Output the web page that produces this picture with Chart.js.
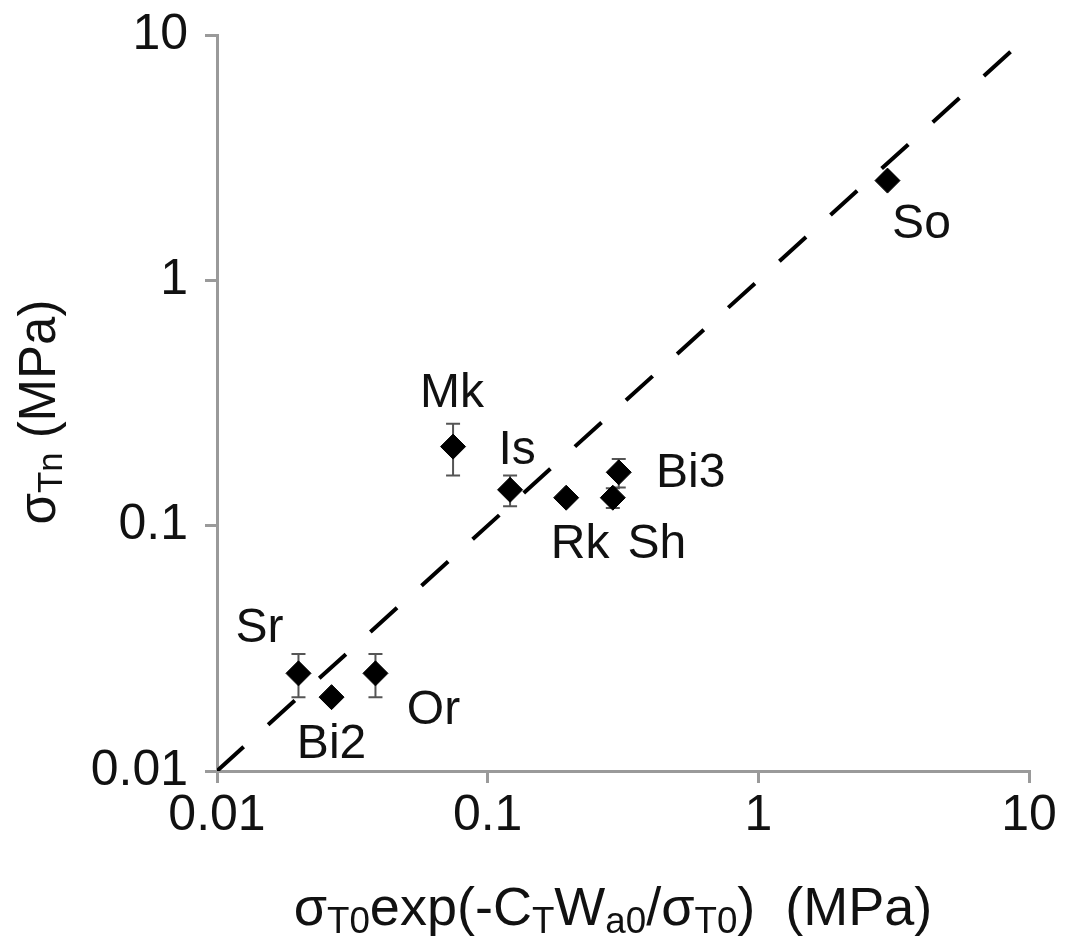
<!DOCTYPE html>
<html>
<head>
<meta charset="utf-8">
<script src="https://cdn.jsdelivr.net/npm/chart.js@4/dist/chart.umd.min.js"></script>
<style>
  body { margin: 0; background: #fff; }
  #wrap { width: 1069px; height: 944px; }
</style>
</head>
<body>
<div id="wrap"><canvas id="plot" width="1069" height="944"></canvas></div>
<script>
// sample names and values
var names = ['Sr', 'Bi2', 'Or', 'Mk', 'Is', 'Rk', 'Sh', 'Bi3', 'So'];
var xVals = [0.02, 0.0265, 0.0385, 0.0745, 0.121, 0.195, 0.29, 0.305, 3.0];
var yVals = [0.025, 0.02, 0.025, 0.21, 0.14, 0.13, 0.13, 0.165, 2.55];
var yErr = [0.005, 0, 0.005, 0.05, 0.02, 0, 0.012, 0.022, 0];
// 1:1 line
var lineX = [0.01, 9];
var lineY = [0.01, 9];
var tickVals = [0.01, 0.1, 1, 10];

// label offsets from the point, in pixels
var labelOffsets = [[-39, -48], [0, 44], [58, 34], [-1, -57], [7, -43], [14, 43], [44, 43], [72, -2], [34, 40]];

var FONT = 'Liberation Sans, Arial, sans-serif';
var AXIS = '#9a9a9a';

var points = [];
for (var i = 0; i < names.length; i++) {
  points.push({x: xVals[i], y: yVals[i]});
}
var linePts = [];
for (var j = 0; j < lineX.length; j++) {
  linePts.push({x: lineX[j], y: lineY[j]});
}

// draws text with subscript parts
function richText(ctx, parts, size, x, y) {
  var total = 0;
  parts.forEach(function(p) {
    ctx.font = (p.sub ? size * 0.68 : size) + 'px ' + FONT;
    p.w = ctx.measureText(p.t).width;
    total += p.w;
  });
  var cx = x - total / 2;
  parts.forEach(function(p) {
    ctx.font = (p.sub ? size * 0.68 : size) + 'px ' + FONT;
    ctx.fillText(p.t, cx, p.sub ? y + size * 0.14 : y);
    cx += p.w;
  });
}

var extras = {
  id: 'extras',
  beforeDatasetsDraw: function(chart) {
    var ctx = chart.ctx;
    var xs = chart.scales.x, ys = chart.scales.y;
    ctx.save();
    ctx.strokeStyle = '#555';
    ctx.lineWidth = 2;
    for (var i = 0; i < names.length; i++) {
      if (!yErr[i]) continue;
      var px = xs.getPixelForValue(xVals[i]);
      var top = ys.getPixelForValue(yVals[i] + yErr[i]);
      var bot = ys.getPixelForValue(yVals[i] - yErr[i]);
      ctx.beginPath();
      ctx.moveTo(px, top); ctx.lineTo(px, bot);
      ctx.moveTo(px - 7, top); ctx.lineTo(px + 7, top);
      ctx.moveTo(px - 7, bot); ctx.lineTo(px + 7, bot);
      ctx.stroke();
    }
    ctx.restore();
  },
  afterDraw: function(chart) {
    var ctx = chart.ctx;
    var xs = chart.scales.x, ys = chart.scales.y;
    ctx.save();
    ctx.fillStyle = '#111';
    ctx.textAlign = 'center';
    ctx.textBaseline = 'alphabetic';
    ctx.font = '48px ' + FONT;
    for (var i = 0; i < names.length; i++) {
      var px = xs.getPixelForValue(xVals[i]) + labelOffsets[i][0];
      var py = ys.getPixelForValue(yVals[i]) + labelOffsets[i][1];
      ctx.fillText(names[i], px, py + 17);
    }
    ctx.textAlign = 'left';
    richText(ctx, [
      {t: '\u03c3'}, {t: 'T0', sub: true}, {t: 'exp(-C'}, {t: 'T', sub: true},
      {t: 'W'}, {t: 'a0', sub: true}, {t: '/\u03c3'}, {t: 'T0', sub: true}, {t: ')  (MPa)'}
    ], 54, 613, 925);
    ctx.translate(55, 412);
    ctx.rotate(-Math.PI / 2);
    richText(ctx, [{t: '\u03c3'}, {t: 'Tn', sub: true}, {t: ' (MPa)'}], 51, 0, 0);
    ctx.restore();
  }
};

function decadeTicks(scale) {
  scale.ticks = tickVals.map(function(v) { return {value: v}; });
}

var ctx = document.getElementById('plot').getContext('2d');
var chart = new Chart(ctx, {
  type: 'scatter',
  data: {
    datasets: [
      {
        data: points,
        pointStyle: 'rectRot',
        pointRadius: 12.5,
        backgroundColor: '#000',
        borderColor: '#000',
        borderWidth: 1
      },
      {
        data: linePts,
        showLine: true,
        pointRadius: 0,
        borderColor: '#000',
        borderWidth: 4,
        borderDash: [36, 33]
      }
    ]
  },
  options: {
    responsive: false,
    devicePixelRatio: 1,
    animation: false,
    layout: { padding: { top: 35, right: 40, left: 0, bottom: 0 } },
    plugins: { legend: { display: false }, tooltip: { enabled: false } },
    scales: {
      x: {
        type: 'logarithmic',
        min: 0.01, max: 10,
        afterBuildTicks: decadeTicks,
        afterFit: function(s) { s.height = 173; s.paddingLeft = 0; s.paddingRight = 0; },
        grid: { drawOnChartArea: false, tickLength: 12, color: AXIS, lineWidth: 3 },
        border: { color: AXIS, width: 3 },
        ticks: {
          color: '#111', padding: 3, maxRotation: 0, autoSkip: false,
          font: { family: FONT, size: 50 },
          callback: function(v) { return String(v); }
        }
      },
      y: {
        type: 'logarithmic',
        min: 0.01, max: 10,
        afterBuildTicks: decadeTicks,
        afterFit: function(s) { s.width = 217; s.paddingTop = 0; s.paddingBottom = 0; },
        grid: { drawOnChartArea: false, tickLength: 12, color: AXIS, lineWidth: 3 },
        border: { color: AXIS, width: 3 },
        ticks: {
          color: '#111', padding: 17, autoSkip: false,
          font: { family: FONT, size: 50 },
          callback: function(v) { return String(v); }
        }
      }
    }
  },
  plugins: [extras]
});
</script>
</body>
</html>
